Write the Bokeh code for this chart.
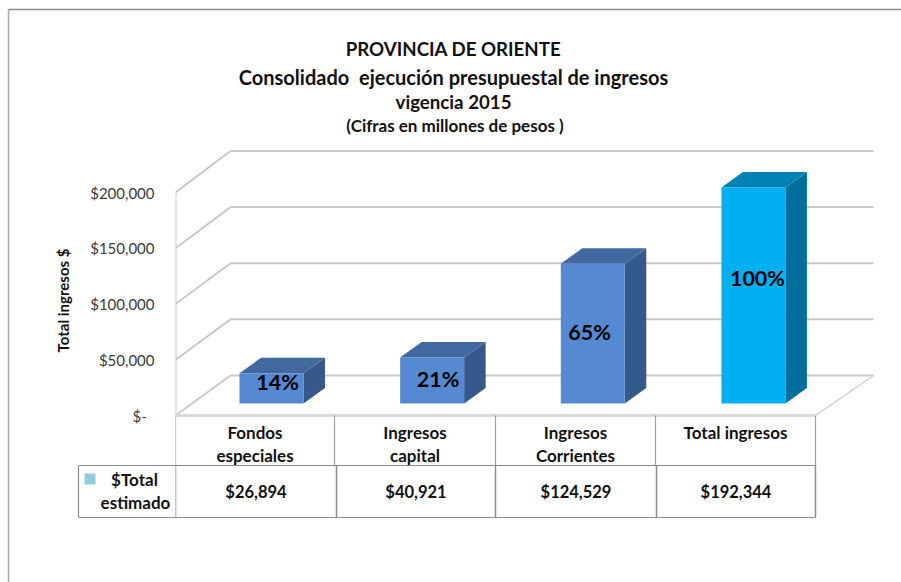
from bokeh.plotting import figure
from bokeh.embed import file_html
from bokeh.resources import INLINE
from bokeh.models import Range1d, FixedTicker
from bokeh.core.properties import value
import math

# ---- data ----
categories = ["Fondos\nespeciales", "Ingresos\ncapital", "Ingresos\nCorrientes", "Total ingresos"]
totals = [26894, 40921, 124529, 192344]
table_labels = ["$26,894", "$40,921", "$124,529", "$192,344"]
percent_labels = ["14%", "21%", "65%", "100%"]
percent_label_values = [19700, 22400, 63700, 113000]
percent_label_nudge = [0.0375, 0.0375, -0.02, 0.025]
y_ticks = [0, 50000, 100000, 150000, 200000]
y_tick_labels = {0: "$-  ", 50000: "$50,000", 100000: "$100,000", 150000: "$150,000", 200000: "$200,000"}
title_lines = ["PROVINCIA DE ORIENTE", "Consolidado\u00a0 ejecución presupuestal de ingresos", "vigencia 2015"]
title_sizes = ["18.7px", "20px", "18.7px"]
subtitle = "(Cifras en millones de pesos )"
y_title = "Total ingresos $"
legend_lines = ["$Total", "estimado"]
front_colors = ["#558AD2", "#558AD2", "#558AD2", "#00B0F0"]
top_colors = ["#41699F", "#41699F", "#41699F", "#0083B4"]
side_colors = ["#355A8A", "#355A8A", "#355A8A", "#006F9C"]

# ---- page geometry (page pixels) ----
W, H = 901, 582
FL, FT = 175, 0            # frame left / top on the page
FR, FB = W, H
PX_PER_CAT = 160.0
Y0 = 415.0                 # page y of value 0 on the front edge
PX_PER_VAL = 223.0 / 200000
BACK = 1.007               # values at the depth of the bars and the back wall are drawn slightly larger


def ux(px):
    return (px - FL) / PX_PER_CAT


def vy(py):
    return (Y0 - py) / PX_PER_VAL


FONT = "Lato"
p = figure(width=W, height=H, output_backend="svg", toolbar_location=None,
           x_range=Range1d(ux(FL), ux(FR)), y_range=Range1d(vy(FB), vy(FT)),
           x_axis_location=None, min_border_left=FL, min_border_right=0,
           min_border_top=0, min_border_bottom=0)
p.outline_line_color = None
p.grid.visible = False
ax = p.yaxis[0]
ax.ticker = FixedTicker(ticks=y_ticks)
ax.major_label_overrides = y_tick_labels
ax.axis_line_color = None
ax.major_tick_line_color = None
ax.major_tick_out = 0
ax.major_tick_in = 0
ax.minor_tick_line_color = None
ax.major_label_text_font = FONT
ax.major_label_text_font_size = "15px"
ax.major_label_text_color = "#3a3a3a"
ax.major_label_standoff = 21

# walls and floor
WALL_DX = ux(230)
WALL_DV = vy(375)
GRID = "#C9C9C9"
for t in y_ticks:
    p.line([0, WALL_DX], [t, t * BACK + WALL_DV], line_color=GRID, line_width=2)
    p.line([WALL_DX, ux(873)], [t * BACK + WALL_DV, t * BACK + WALL_DV], line_color=GRID, line_width=2)
p.line([0, 0], [0, y_ticks[-1]], line_color=GRID, line_width=2)
p.line([0, ux(815)], [0, 0], line_color="#D9D9D9", line_width=3)
p.line([ux(815), ux(873)], [0, WALL_DV], line_color="#CFCFCF", line_width=1.5)

# 3D bars
BASE = vy(403)
BAR_W = 0.40
BAR_STEP = 1.004
BAR_START = 0.40
DX = 21.5 / PX_PER_CAT
DV = 15.5 / PX_PER_VAL
for i, v in enumerate(totals):
    x0 = BAR_START + i * BAR_STEP
    x1 = x0 + BAR_W
    y0, y1 = BASE, BASE + v * BACK
    p.patch([x1, x1 + DX, x1 + DX, x1], [y0, y0 + DV, y1 + DV, y1], fill_color=side_colors[i], line_color=None)
    p.patch([x0, x1, x1 + DX, x0 + DX], [y1, y1, y1 + DV, y1 + DV], fill_color=top_colors[i], line_color=None)
    p.quad(left=x0, right=x1, bottom=y0, top=y1, fill_color=front_colors[i], line_color=None)
    p.text([x0 + BAR_W / 2 + percent_label_nudge[i]], [BASE + percent_label_values[i]], text=[percent_labels[i]],
           text_font=value(FONT), text_font_style="bold", text_font_size="21.5px",
           text_color="#000000", text_align="center", text_baseline="middle")

# data table
ROW1 = vy(465)
ROW2 = vy(517)
CELL1 = "#A0A0A0"
CELL2 = "#8C8C8C"
row1_edges = [ux(x) for x in (175, 334, 495, 655, 815)]
row2_edges = [ux(x) for x in (175, 336, 495, 656, 815)]
for x in row1_edges:
    p.line([x, x], [0, ROW1], line_color=CELL1, line_width=1.2)
for x in row2_edges:
    p.line([x, x], [ROW1, ROW2], line_color=CELL2, line_width=1.5)
LEG_L = ux(78)
p.line([LEG_L, ux(815)], [ROW1, ROW1], line_color=CELL2, line_width=1.2, level="overlay")
p.line([LEG_L, ux(815)], [ROW2, ROW2], line_color=CELL2, line_width=1.2, level="overlay")
p.line([LEG_L, LEG_L], [ROW1, ROW2], line_color=CELL2, line_width=1.2, level="overlay")
for i in range(4):
    xc = (row1_edges[i] + row1_edges[i + 1]) / 2
    p.text([xc], [vy(421)], text=[categories[i]], text_font=value(FONT), text_font_style="bold",
           text_font_size="17px", text_color="#111111", text_align="center", text_baseline="top",
           text_line_height=1.1)
    xc = (row2_edges[i] + row2_edges[i + 1]) / 2
    p.text([xc], [vy(491)], text=[table_labels[i]], text_font=value(FONT), text_font_style="bold",
           text_font_size="16.5px", text_color="#111111", text_align="center", text_baseline="middle")

# title
for line, size, py in zip(title_lines, title_sizes, (48, 76, 101)):
    p.text([ux(453)], [vy(py)], text=[line], text_font=value(FONT), text_font_style="bold",
           text_font_size=size, text_color="#111111", text_align="center", text_baseline="middle")
p.text([ux(454.5)], [vy(125)], text=[subtitle], text_font=value(FONT), text_font_style="bold",
       text_font_size="17px", text_color="#111111", text_align="center", text_baseline="middle")

# outer frame of the chart
p.line([ux(8), ux(FR)], [vy(9), vy(9)], line_color="#8C8C8C", line_width=1.5, level="overlay")
p.line([ux(8), ux(8)], [vy(9), vy(FB)], line_color="#A6A6A6", line_width=1.5, level="overlay")

# legend cell and axis title, left of the plot frame
p.quad(left=[ux(84)], right=[ux(95)], top=[vy(473)], bottom=[vy(484)], fill_color="#92CDDC", line_color=None,
       level="overlay")
for line, px, py in zip(legend_lines, (134, 135), (479, 502)):
    p.text([ux(px)], [vy(py)], text=[line], text_font=value(FONT), text_font_style="bold", text_font_size="17px",
           text_color="#111111", text_align="center", text_baseline="middle", level="overlay")
p.text([ux(62)], [vy(300)], text=[y_title], angle=math.pi / 2, text_font=value(FONT), text_font_style="bold",
       text_font_size="15px", text_color="#111111", text_align="center", text_baseline="middle", level="overlay")

open("out.html", "w").write(file_html(p, INLINE))
